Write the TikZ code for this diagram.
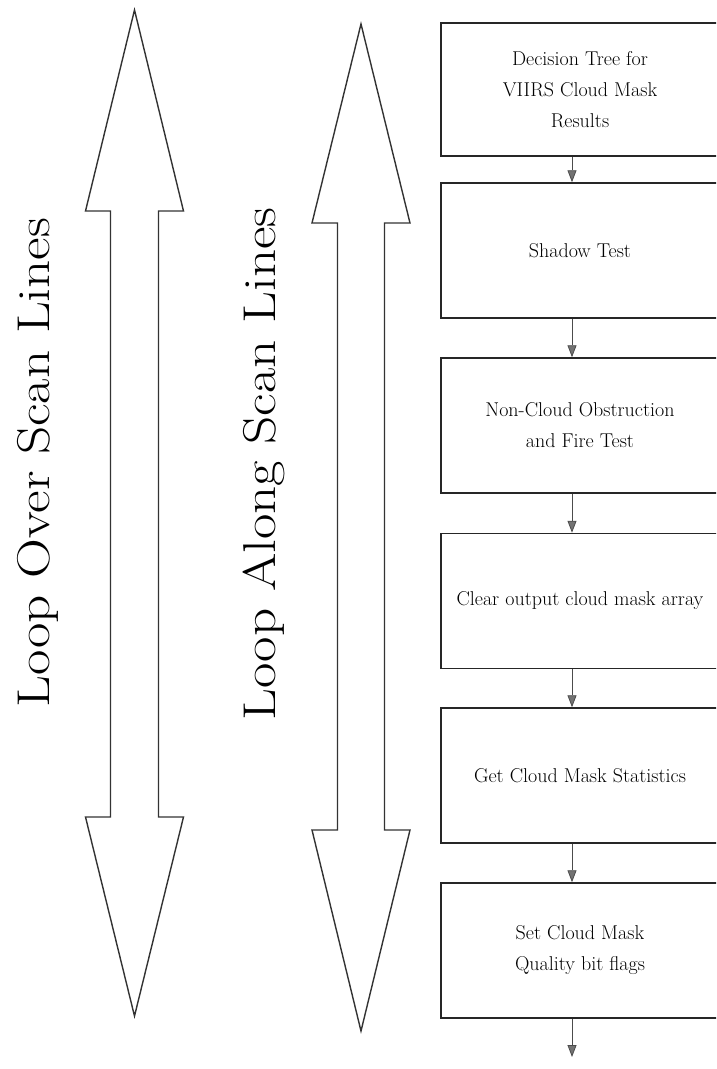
\documentclass[tikz,border=0pt]{standalone}
\usetikzlibrary{arrows.meta}
\begin{document}
\begin{tikzpicture}[x=1pt,y=-1pt,
  bigarrow/.style={draw=black!80, line width=1.4pt, line join=miter, fill=white},
  stepbox/.style={draw=black!85, line width=1.5pt, minimum width=278pt,
    minimum height=135pt, inner sep=0pt, align=center,
    font=\fontsize{20}{31}\selectfont},
  flow/.style={draw=black!70, line width=0.8pt,
    -{Triangle[length=12pt,width=9pt,fill=black!55]}},
  looplabel/.style={rotate=90, anchor=base, inner sep=0pt,
    font=\fontsize{46}{52}\selectfont}]
\useasboundingbox (0,0) rectangle (716,1069);
\clip (0,0) rectangle (716,1069);

% outer loop: double-headed block arrow
\draw[bigarrow] (134.5,10) -- (183.5,211) -- (158.5,211) -- (158.5,817)
  -- (183.5,817) -- (134.5,1016) -- (85.5,817) -- (110.5,817)
  -- (110.5,211) -- (85.5,211) -- cycle;
\node[looplabel] (outer) at (49,462.5) {\scalebox{1.2}[1]{Loop Over Scan Lines}};

% inner loop: double-headed block arrow
\draw[bigarrow] (361,24) -- (410,223) -- (384.5,223) -- (384.5,830)
  -- (410,830) -- (361,1031) -- (312,830) -- (337.5,830)
  -- (337.5,223) -- (312,223) -- cycle;
\node[looplabel] (inner) at (275,464) {\scalebox{1.2}[1]{Loop Along Scan Lines}};

% processing steps
\node[stepbox, minimum height=133pt] (b1) at (580,89.5) {Decision Tree for\\VIIRS Cloud Mask\\Results};
\node[stepbox] (b2) at (580,250.5) {Shadow Test};
\node[stepbox] (b3) at (580,425.5) {Non-Cloud Obstruction\\and Fire Test};
\node[stepbox] (b4) at (580,601) {Clear output cloud mask array};
\node[stepbox] (b5) at (580,775.5) {Get Cloud Mask Statistics};
\node[stepbox] (b6) at (580,950.5) {Set Cloud Mask\\Quality bit flags};

% connectors
\coordinate (ax) at (572,0);
\coordinate (out) at (572,1057);
\draw[flow] (b1.south -| ax) -- (b2.north -| ax);
\draw[flow] (b2.south -| ax) -- (b3.north -| ax);
\draw[flow] (b3.south -| ax) -- (b4.north -| ax);
\draw[flow] (b4.south -| ax) -- (b5.north -| ax);
\draw[flow] (b5.south -| ax) -- (b6.north -| ax);
\draw[flow] (b6.south -| ax) -- (out);
\end{tikzpicture}
\end{document}
